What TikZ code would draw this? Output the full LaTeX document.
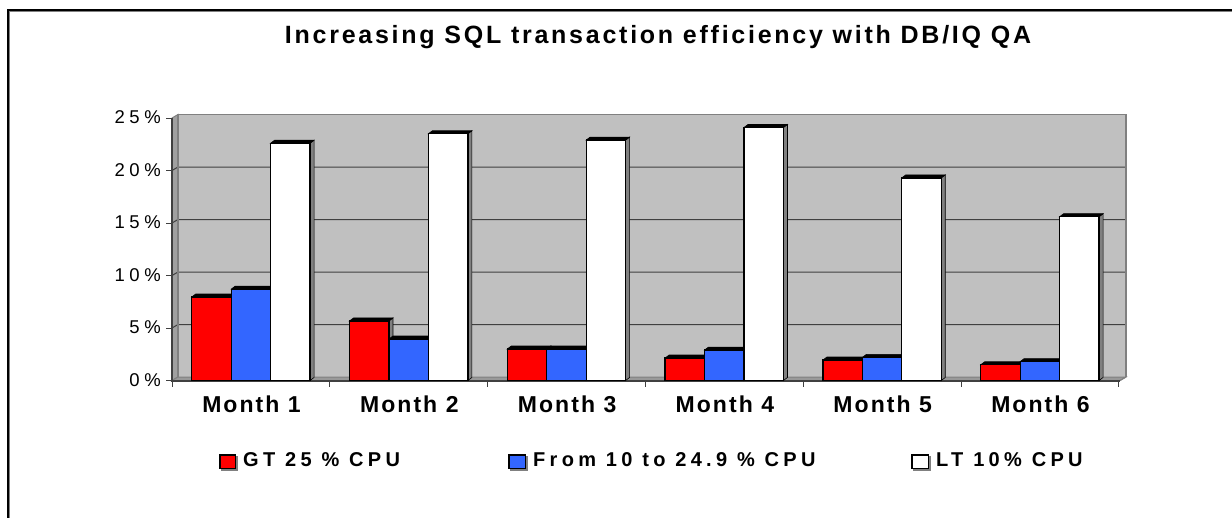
\documentclass[tikz,border=0pt]{standalone}
\usepackage{fontspec}
\setmainfont{Liberation Sans}
\newfontfamily\titlefont[LetterSpace=11]{Liberation Sans}
\newfontfamily\monthfont[LetterSpace=9]{Liberation Sans}
\newfontfamily\legfont[LetterSpace=21.5]{Liberation Sans}
\newfontfamily\yfont[LetterSpace=25]{Liberation Sans}
\definecolor{wallgray}{HTML}{C0C0C0}
\definecolor{sidegray}{HTML}{A0A0A0}
\definecolor{edgegray}{HTML}{808080}
\definecolor{gridc}{HTML}{404040}
\definecolor{barred}{HTML}{FF0000}
\definecolor{barblue}{HTML}{3366FF}
\tikzset{
  titletext/.style={anchor=base,inner sep=0pt,font={\titlefont\bfseries\fontsize{25}{30}\selectfont}},
  monthtext/.style={anchor=base,inner sep=0pt,font={\monthfont\bfseries\fontsize{23}{28}\selectfont}},
  legtext/.style={anchor=base west,inner sep=0pt,font={\legfont\bfseries\fontsize{20}{24}\selectfont}},
  ytext/.style={anchor=base east,inner sep=0pt,font={\yfont\fontsize{18.5}{22}\selectfont}},
  gridline/.style={draw=gridc,line width=1pt},
  barface/.style={draw=black,line width=1.3pt},
  legbox/.style={draw=black,line width=1.2pt},
}
\newcommand\drawbar[3]{%
  \pgfmathsetmacro\ytop{380.5-10.5*#2}%
  \pgfmathsetmacro\xr{#1+39.45}%
  \filldraw[fill=edgegray,draw=black,line width=0.6pt] (\xr,380.5) -- (\xr,\ytop) -- ++(4,-3) -- (\xr+4,377.5) -- cycle;
  \filldraw[fill=black,draw=black,line width=0.6pt] (#1,\ytop) -- ++(4,-3) -- ++(39.45,0) -- (\xr,\ytop) -- cycle;
  \filldraw[barface,fill=#3] (#1,\ytop) rectangle (\xr,380.5);
}
\begin{document}
\begin{tikzpicture}[x=1pt,y=-1pt]
\useasboundingbox (0,0) rectangle (1232,517);
\fill[white] (0,0) rectangle (1232,517);
% outer frame
\draw[edgegray,line width=2.2pt] (8.5,520) -- (8.5,10.5) -- (1240,10.5);
\draw[black,line width=1.3pt] (8,520) -- (8,10) -- (1240,10);
% title
\node[titletext] (title) at (658,43.5) {Increasing SQL transaction efficiency with DB/IQ QA};
% walls
\fill[wallgray] (178,114.5) rectangle (1126,377);
\filldraw[fill=sidegray,draw=edgegray,line width=1pt] (172,380.5) -- (172,118) -- (178,114.5) -- (178,377) -- cycle;
\filldraw[fill=edgegray!80!white,draw=edgegray,line width=1pt] (172,380.5) -- (178,377) -- (1126,377) -- (1120,380.5) -- cycle;
\foreach \i in {1,...,4}{
  \draw[gridline] (172,380.5-52.5*\i) -- (178,377-52.5*\i) -- (1126,377-52.5*\i);
}
\draw[edgegray,line width=1.8pt] (178,377) -- (178,114.5) -- (1126,114.5) -- (1126,377);
\draw[edgegray,line width=1pt] (1126,377) -- (1120,380.5);
% axes
\draw[gridc,line width=1.2pt] (172,118) -- (172,381) -- (1120,381);
\foreach \i in {0,...,5}{
  \draw[gridc,line width=1pt] (166,380.5-52.5*\i) -- (172,380.5-52.5*\i);
}
\foreach \k in {0,...,6}{
  \draw[gridc,line width=1pt] (172+157.8*\k,381) -- (172+157.8*\k,387);
}
% y labels
\foreach \i/\t in {0/0\%,1/5\%,2/10\%,3/15\%,4/20\%,5/25\%}{
  \node[ytext] (y\i) at (161,386-52.5*\i) {\t};
}
% bars
\foreach \k/\a/\b/\c in {0/7.95/8.7/22.6,1/5.67/3.95/23.5,2/3.0/3.0/22.9,3/2.14/2.9/24.1,4/1.95/2.2/19.3,5/1.5/1.8/15.6}{
  \pgfmathsetmacro\xa{172+157.8*\k+19.7}
  \pgfmathsetmacro\xb{\xa+39.45}
  \pgfmathsetmacro\xc{\xb+39.45}
  \drawbar{\xa}{\a}{barred}
  \drawbar{\xb}{\b}{barblue}
  \drawbar{\xc}{\c}{white}
}
% month labels
\foreach \k in {0,...,5}{
  \pgfmathtruncatemacro\m{\k+1}
  \node[monthtext] (m\k) at (251.5+157.8*\k,412) {Month \m};
}
% legend
\filldraw[edgegray] (221,456) rectangle (237,470);
\filldraw[legbox,fill=barred] (220,455) rectangle (235.5,468.5);
\node[legtext] (l1) at (243,466) {GT 25 \% CPU};
\filldraw[edgegray] (510,456) rectangle (527,470);
\filldraw[legbox,fill=barblue] (509,455) rectangle (525.5,468.5);
\node[legtext] (l2) at (533,466) {From 10 to 24.9 \% CPU};
\filldraw[edgegray] (913,456) rectangle (930,470);
\filldraw[legbox,fill=white] (912,455) rectangle (928.5,468.5);
\node[legtext] (l3) at (936,466) {LT 10\% CPU};
\end{tikzpicture}
\end{document}
